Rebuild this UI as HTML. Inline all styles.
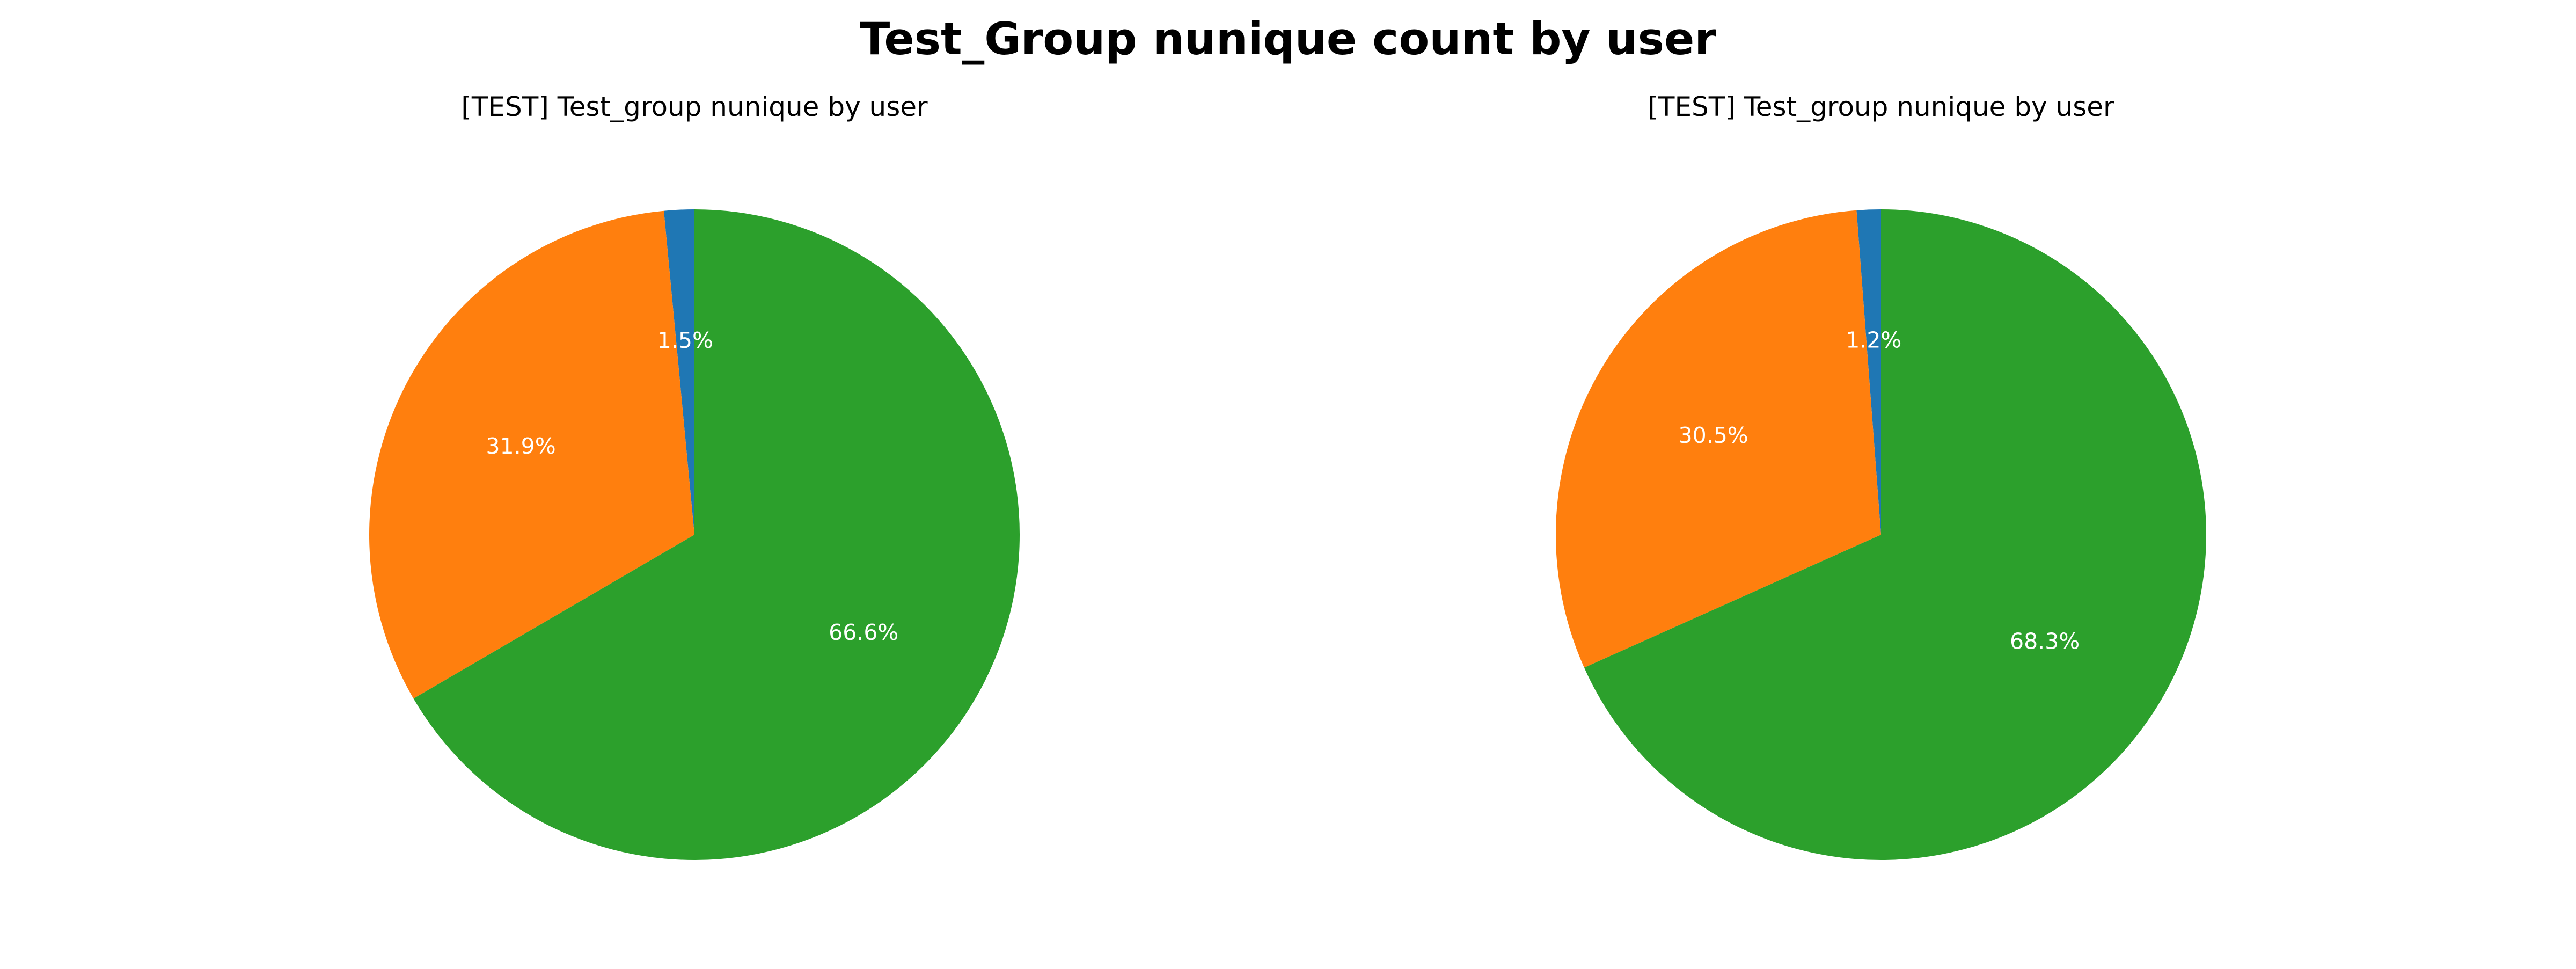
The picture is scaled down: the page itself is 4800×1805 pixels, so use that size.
<!DOCTYPE html>
<html><head><meta charset="utf-8"><style>
body{margin:0;background:#fff}
svg text{font-family:"DejaVu Sans","Liberation Sans",sans-serif}
</style></head><body>
<svg id="chart" width="4800" height="1800" xmlns="http://www.w3.org/2000/svg">
<rect width="4800" height="1800" fill="#fff"/>
<text x="2400" y="101" text-anchor="middle" font-size="83" font-weight="bold">Test_Group nunique count by user</text>
<text x="1294" y="216" text-anchor="middle" font-size="50">[TEST] Test_group nunique by user</text>
<text x="3505" y="216" text-anchor="middle" font-size="50">[TEST] Test_group nunique by user</text>
<g id="pies"></g>
<g id="labels"></g>
</svg>
<script>
const categories = ["group-a", "group-b", "group-c"];
const leftValues = [1.5, 31.9, 66.6];
const rightValues = [1.2, 30.5, 68.3];
const colors = ["#1f77b4", "#ff7f0e", "#2ca02c"];
const NS = "http://www.w3.org/2000/svg";
const g = document.getElementById("pies");
const lg = document.getElementById("labels");
function drawPie(values, cx, cy, r, side) {
  const total = values.reduce((a, b) => a + b, 0);
  let ang = 90;
  values.forEach((v, i) => {
    const sweep = v / total * 360;
    const a0 = ang * Math.PI / 180, a1 = (ang + sweep) * Math.PI / 180;
    const x0 = cx + r * Math.cos(a0), y0 = cy - r * Math.sin(a0);
    const x1 = cx + r * Math.cos(a1), y1 = cy - r * Math.sin(a1);
    const large = sweep > 180 ? 1 : 0;
    const p = document.createElementNS(NS, "path");
    p.setAttribute("d", `M${cx},${cy} L${x0},${y0} A${r},${r} 0 ${large} 0 ${x1},${y1} Z`);
    p.setAttribute("fill", colors[i]);
    
    
    g.appendChild(p);
    const mid = (ang + sweep / 2) * Math.PI / 180;
    const t = document.createElementNS(NS, "text");
    t.setAttribute("x", cx + 0.6 * r * Math.cos(mid));
    t.setAttribute("y", cy - 0.6 * r * Math.sin(mid) + 15);
    t.setAttribute("text-anchor", "middle");
    t.setAttribute("font-size", "41");
    t.setAttribute("fill", "#fff");
    t.textContent = (v / total * 100).toFixed(1) + "%";
    
    
    lg.appendChild(t);
    ang += sweep;
  });
}
drawPie(leftValues, 1294, 996, 606, "left");
drawPie(rightValues, 3505, 996, 606, "right");
</script>
</body></html>
